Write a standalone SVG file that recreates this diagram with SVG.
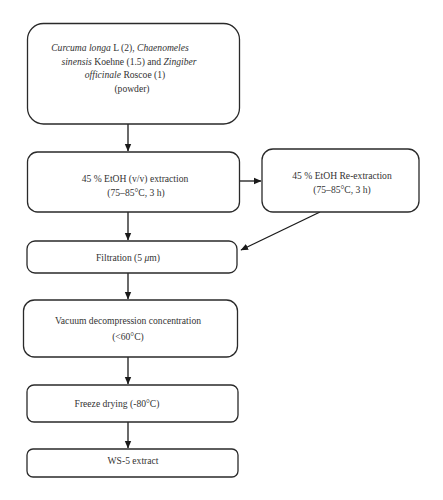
<svg xmlns="http://www.w3.org/2000/svg" width="443" height="500" viewBox="0 0 443 500">
<defs>
<marker id="ah" markerWidth="8" markerHeight="8" refX="7" refY="4" orient="auto" markerUnits="userSpaceOnUse">
<path d="M0,0.8 L7.5,4 L0,7.2 z" fill="#1a1a1a"/>
</marker>
<style>
.box{fill:#fff;stroke:#2a2a2a;stroke-width:1.3}
.t{font-family:"Liberation Serif","Times New Roman",serif;font-size:9.6px;fill:#333;text-anchor:middle}
.c{stroke:#1a1a1a;stroke-width:1.3;fill:none;marker-end:url(#ah)}
</style>
</defs>
<rect width="443" height="500" fill="#fff"/>
<g id="connectors">
<line class="c" x1="128" y1="124" x2="128" y2="151"/>
<line class="c" x1="240" y1="181" x2="261" y2="181"/>
<line class="c" x1="320" y1="212" x2="241" y2="250"/>
<line class="c" x1="128" y1="212" x2="128" y2="240"/>
<line class="c" x1="128" y1="273" x2="128" y2="299"/>
<line class="c" x1="128" y1="357" x2="128" y2="384"/>
<line class="c" x1="128" y1="422" x2="128" y2="448"/>
</g>
<g id="n1">
<rect class="box" x="27.5" y="23.5" width="212" height="100.5" rx="16"/>
<text class="t" x="120" y="51"><tspan font-style="italic">Curcuma longa</tspan> L (2), <tspan font-style="italic">Chaenomeles</tspan></text>
<text class="t" x="129" y="64.5"><tspan font-style="italic">sinensis</tspan> Koehne (1.5) and <tspan font-style="italic">Zingiber</tspan></text>
<text class="t" x="125" y="78"><tspan font-style="italic">officinale</tspan> Roscoe (1)</text>
<text class="t" x="132" y="91.5">(powder)</text>
</g>
<g id="n2">
<rect class="box" x="27.5" y="152" width="212" height="60" rx="10"/>
<text class="t" x="135" y="182">45 % EtOH (v/v) extraction</text>
<text class="t" x="136" y="196">(75–85°C, 3 h)</text>
</g>
<g id="n3">
<rect class="box" x="262" y="149" width="157" height="63" rx="11"/>
<text class="t" x="342" y="179">45 % EtOH Re-extraction</text>
<text class="t" x="342" y="193">(75–85°C, 3 h)</text>
</g>
<g id="n4">
<rect class="box" x="27" y="241" width="210" height="32" rx="8"/>
<text class="t" x="128" y="261">Filtration (5 <tspan font-style="italic">μ</tspan>m)</text>
</g>
<g id="n5">
<rect class="box" x="23.5" y="300" width="214" height="57" rx="11"/>
<text class="t" x="128" y="324">Vacuum decompression concentration</text>
<text class="t" x="128" y="340">(&lt;60°C)</text>
</g>
<g id="n6">
<rect class="box" x="27" y="385" width="211" height="37" rx="7"/>
<text class="t" x="117" y="407">Freeze drying (-80°C)</text>
</g>
<g id="n7">
<rect class="box" x="27" y="449" width="211" height="28" rx="6"/>
<text class="t" x="133" y="464">WS-5 extract</text>
</g>
</svg>
